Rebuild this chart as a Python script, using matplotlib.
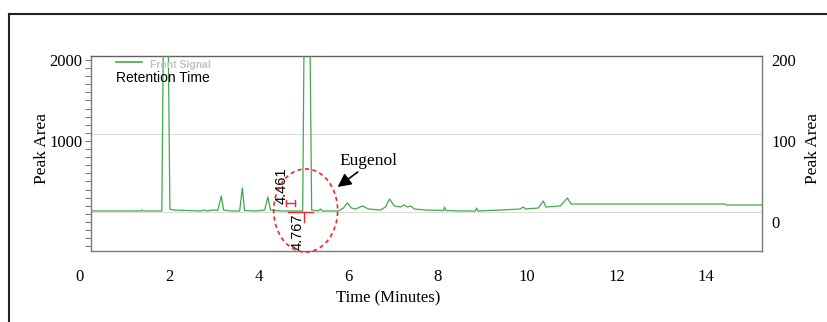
"""
Chromatogram with Eugenol peak highlighted (GC trace, dual Peak Area axes).
"""

import matplotlib
matplotlib.use('Agg')
import matplotlib.pyplot as plt
from matplotlib.lines import Line2D
from matplotlib.patches import Ellipse
from matplotlib.ticker import MultipleLocator

# ── Data ──────────────────────────────────────────────────────────────────────
# retention time (min) and signal (left axis units); 3000 = off-scale peak
time_min = [0.25, 1.36, 1.38, 1.41, 1.83, 1.875, 1.96, 2.01, 2.08, 2.70, 2.77,
            2.83, 2.97, 3.08, 3.16, 3.21, 3.37, 3.57, 3.63, 3.68, 3.93, 4.13,
            4.20, 4.26, 4.49, 4.98, 5.02, 5.13, 5.18, 5.33, 5.38, 5.42, 5.78,
            5.89, 5.98, 6.07, 6.16, 6.32, 6.45, 6.72, 6.83, 6.92, 7.03, 7.17,
            7.25, 7.32, 7.39, 7.48, 7.72, 8.13, 8.15, 8.18, 8.50, 8.84, 8.87,
            8.90, 9.40, 9.62, 9.84, 9.91, 9.96, 10.25, 10.36, 10.42, 10.74,
            10.90, 10.98, 11.18, 12.08, 14.42, 14.46, 15.25]
signal = [136, 136, 148, 136, 136, 3000, 3000, 160, 148, 136, 148,
          136, 148, 142, 321, 148, 136, 136, 420, 142, 136, 148,
          309, 148, 136, 136, 3000, 3000, 148, 136, 160, 136, 136,
          173, 235, 173, 160, 198, 160, 148, 185, 284, 198, 185,
          210, 185, 198, 160, 148, 142, 185, 142, 136, 136, 173,
          136, 148, 154, 160, 185, 160, 173, 259, 185, 198,
          296, 222, 222, 222, 222, 210, 210]

x_tick_values = [0, 2, 4, 6, 8, 10, 12, 14]
left_ticks = [1000, 2000]
right_ticks = [0, 100, 200]
grid_levels = [1086, 123]

# annotation values around the Eugenol peak
ret_labels = ['4.461', '4.767']
ret_label_pos = [(4.50, 444), (4.87, -123)]
bracket_x = [4.60, 4.80]
bracket_y = 235
marker_x = [4.64, 5.20]
marker_y = 123
marker_drop_x = 5.0
circle_center = (5.045, 142)
circle_size = (1.43, 1025)
eugenol_text = (6.45, 753)
eugenol_arrow_tail = (6.21, 617)
eugenol_arrow_head = (5.76, 432)

# ── Styling ───────────────────────────────────────────────────────────────────
SERIF = 'Liberation Serif'
SANS = 'Liberation Sans'
GREEN = '#43a84c'
RED = '#f0262b'
SPINE = '#7a7a7a'

W, H = 827, 322
fig = plt.figure(figsize=(W / 100, H / 100), dpi=100)
ax = fig.add_axes([91 / W, 1 - 251 / H, 671 / W, 195 / H])

ax.set_xlim(0.246, 15.25)
ax.set_ylim(-358, 2049)

for lvl in grid_levels:
    ax.axhline(lvl, color='#dcdcdc', lw=0.8, zorder=0)

ax.plot(time_min, signal, color=GREEN, lw=0.9, zorder=3)

# spines / ticks
for side in ['left', 'right', 'bottom']:
    ax.spines[side].set_color(SPINE)
    ax.spines[side].set_linewidth(1.0)
ax.spines['top'].set_color('#606060')
ax.spines['top'].set_linewidth(1.0)

ax.set_xticks([])
ax.set_yticks(left_ticks)
ax.set_yticklabels([str(v) for v in left_ticks], family=SERIF, fontsize=12)
ax.yaxis.set_minor_locator(MultipleLocator(100))
ax.tick_params(axis='y', which='both', direction='out', length=4, width=0.8,
               color=SPINE, pad=2)

ax2 = ax.twinx()
ax2.set_ylim(-35.8, 204.9)
ax2.set_yticks(right_ticks)
ax2.set_yticklabels([str(v) for v in right_ticks], family=SERIF, fontsize=12)
ax2.tick_params(axis='y', length=0, pad=7)
for side in ['left', 'right', 'bottom', 'top']:
    ax2.spines[side].set_visible(False)

# x tick labels sit offset from the plotted range (as in the source)
xt = ax.get_xaxis_transform()
for v in x_tick_values:
    ax.text(v, -0.133, str(v), transform=xt, ha='center', va='center',
            family=SERIF, fontsize=12, clip_on=False)

fig.text(388 / W, 1 - 298 / H, 'Time (Minutes)', ha='center', va='center',
         family=SERIF, fontsize=12)
fig.text(42 / W, 1 - 148 / H, 'Peak Area', ha='center', va='center',
         rotation=90, family=SERIF, fontsize=12.5)
fig.text(813 / W, 1 - 148 / H, 'Peak Area', ha='center', va='center',
         rotation=90, family=SERIF, fontsize=12.5)

# legend-like header inside the plot
ax.add_line(Line2D([0.037, 0.076], [0.969, 0.969], transform=ax.transAxes,
                   color=GREEN, lw=1.2))
ax.text(0.088, 0.954, 'Front Signal', transform=ax.transAxes, ha='left',
        va='center', family=SANS, fontsize=7.5, fontweight='bold', color='#c4c4c4')
ax.text(0.037, 0.888, 'Retention Time', transform=ax.transAxes, ha='left',
        va='center', family=SANS, fontsize=10, color='black')

# retention markers
for txt, (tx, ty) in zip(ret_labels, ret_label_pos):
    ax.text(tx, ty, txt, rotation=90, ha='center', va='center', family=SANS,
            fontsize=10.5, color='black', clip_on=False, zorder=5)
ax.plot(bracket_x, [bracket_y, bracket_y], color=RED, lw=1.0, zorder=4)
for bx in bracket_x:
    ax.plot([bx, bx], [bracket_y - 38, bracket_y + 38], color=RED, lw=1.0, zorder=4)
ax.plot(marker_x, [marker_y, marker_y], color=RED, lw=1.0, zorder=4)
ax.plot([marker_drop_x, marker_drop_x], [marker_y, 0], color=RED, lw=1.0, zorder=4)

ax.add_patch(Ellipse(circle_center, circle_size[0], circle_size[1], fill=False,
                     edgecolor=RED, lw=1.2, ls=(0, (2.5, 2)), clip_on=False,
                     zorder=5))

ax.text(eugenol_text[0], eugenol_text[1], 'Eugenol', ha='center', va='center',
        family=SERIF, fontsize=12.5)
ax.annotate('', xy=eugenol_arrow_head, xytext=eugenol_arrow_tail,
            arrowprops=dict(arrowstyle='-|>,head_length=0.8,head_width=0.4',
                            color='black', lw=1.2, shrinkA=0, shrinkB=0))

# outer frame of the figure panel (cut off at right and bottom)
fig.add_artist(Line2D([9 / W, 9 / W], [0, 1 - 14 / H], transform=fig.transFigure,
                      color='#222222', lw=1.5))
fig.add_artist(Line2D([9 / W, 1], [1 - 14 / H, 1 - 14 / H], transform=fig.transFigure,
                      color='#222222', lw=1.5))

fig.savefig('out.png', dpi=100)
